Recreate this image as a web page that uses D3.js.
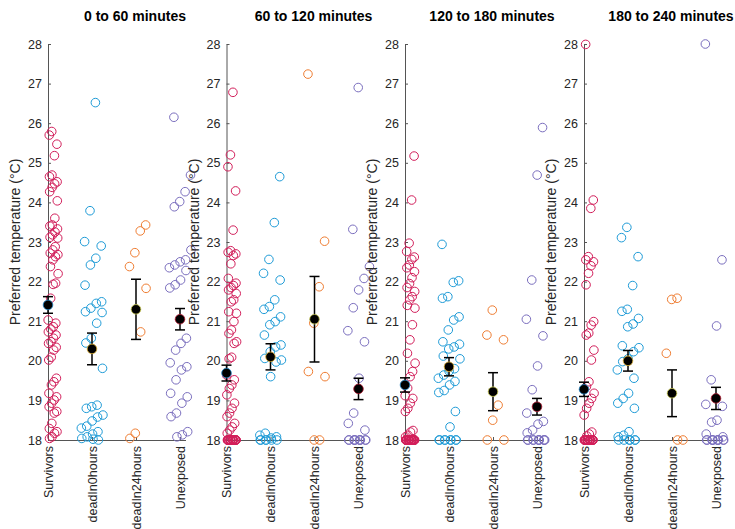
<!DOCTYPE html>
<html>
<head>
<meta charset="utf-8">
<script src="https://cdn.jsdelivr.net/npm/d3@7"></script>
<style>
  html, body { margin: 0; padding: 0; background: #fff; }
  svg { display: block; font-family: "Liberation Sans", Arial, Helvetica, sans-serif; }
</style>
</head>
<body>
<svg id="chart" width="735" height="529"></svg>
<script>
// ---------------- DATA ----------------
const categories = ["Survivors", "deadIn0hours", "deadIn24hours", "Unexposed"];
const panelTitles = ["0 to 60 minutes", "60 to 120 minutes", "120 to 180 minutes", "180 to 240 minutes"];
const yTicks = [18, 19, 20, 21, 22, 23, 24, 25, 26, 27, 28];
const yLabel = "Preferred temperature (°C)";

// 0 to 60 minutes
const survivors_0_60 = [25.79, 25.70, 25.47, 25.18, 24.69, 24.65, 24.52, 24.47, 24.38, 24.27, 24.04, 23.60, 23.43, 23.40, 23.33, 23.25, 23.18, 23.12, 23.10, 22.88, 22.80, 22.72, 22.68, 22.63, 22.55, 22.38, 22.20, 21.96, 21.93, 21.58, 21.03, 20.95, 20.86, 20.80, 20.73, 20.65, 20.57, 20.48, 20.44, 20.34, 20.27, 20.09, 20.02, 19.56, 19.47, 19.39, 19.18, 19.09, 19.01, 18.93, 18.84, 18.72, 18.68, 18.42, 18.29, 18.21, 18.17, 18.08, 18.04];
const dead0_0_60 = [26.52, 23.79, 23.01, 22.90, 22.59, 22.42, 21.91, 21.49, 21.45, 21.33, 21.24, 21.22, 20.95, 20.57, 20.45, 19.81, 18.88, 18.84, 18.80, 18.63, 18.58, 18.48, 18.35, 18.30, 18.21, 18.15, 18.08, 18.04, 18.00, 18.02];
const dead24_0_60 = [23.43, 23.28, 22.73, 22.38, 21.83, 20.73, 18.17, 18.04];
const unexposed_0_60 = [26.15, 24.69, 24.27, 24.02, 23.89, 22.80, 22.55, 22.50, 22.42, 22.35, 22.28, 22.04, 21.92, 21.84, 20.57, 20.44, 20.27, 19.95, 19.85, 19.77, 19.52, 19.18, 19.09, 18.93, 18.68, 18.59, 18.21, 18.13, 18.08];
const means_0_60 = [21.41, 20.30, 21.30, 21.05];
const errs_0_60 = [0.21, 0.40, 0.76, 0.27];

// 60 to 120 minutes
const survivors_60_120 = [26.78, 25.20, 24.90, 24.29, 23.30, 22.78, 22.74, 22.70, 22.66, 22.45, 22.08, 21.96, 21.90, 21.85, 21.79, 21.70, 21.54, 21.49, 21.24, 21.20, 20.99, 20.78, 20.69, 20.48, 20.44, 20.09, 20.05, 19.64, 19.52, 19.39, 19.30, 19.14, 18.93, 18.80, 18.68, 18.59, 18.42, 18.33, 18.25, 18.17, 18, 18, 18, 18, 18, 18, 18, 18, 18, 18, 18, 18, 18, 18, 18, 18, 18, 18, 18, 18, 18, 18, 18, 18, 18];
const dead0_60_120 = [24.65, 23.49, 22.56, 22.21, 22.04, 21.54, 21.37, 21.30, 21.11, 20.99, 20.91, 20.65, 20.40, 20.35, 20.23, 20.06, 20.02, 19.97, 19.60, 18.17, 18.12, 18.08, 18.05, 18, 18, 18, 18, 18, 18];
const dead24_60_120 = [27.24, 23.02, 21.87, 20.95, 19.73, 19.60, 18, 18];
const unexposed_60_120 = [26.90, 23.32, 22.38, 22.08, 21.79, 21.34, 20.76, 20.48, 19.56, 18.68, 18.42, 18.25, 18, 18, 18, 18, 18, 18, 18, 18, 18, 18];
const means_60_120 = [19.69, 20.10, 21.05, 19.29];
const errs_60_120 = [0.20, 0.33, 1.08, 0.27];

// 120 to 180 minutes
const survivors_120_180 = [25.17, 24.06, 22.97, 22.76, 22.62, 22.56, 22.42, 22.35, 22.25, 22.10, 21.95, 21.85, 21.75, 21.62, 21.54, 21.40, 21.33, 20.91, 20.53, 20.19, 19.94, 19.73, 19.60, 19.31, 19.12, 19.05, 18.93, 18.80, 18.72, 18.24, 18.20, 18.12, 18.08, 18, 18, 18, 18, 18, 18, 18, 18, 18, 18, 18, 18, 18, 18, 18, 18, 18, 18, 18, 18, 18, 18, 18, 18, 18, 18, 18, 18, 18, 18];
const dead0_120_180 = [22.94, 22.02, 21.98, 21.62, 21.58, 21.11, 21.03, 20.78, 20.48, 20.42, 20.35, 20.30, 20.12, 20.05, 19.80, 19.74, 19.64, 19.56, 19.48, 19.39, 19.25, 19.20, 18.72, 18.33, 18, 18, 18, 18, 18, 18, 18, 18];
const dead24_120_180 = [21.28, 20.65, 20.53, 18.88, 18.50, 18, 18];
const unexposed_120_180 = [25.89, 24.69, 22.04, 21.05, 20.63, 19.87, 19.27, 18.68, 18.47, 18.40, 18.25, 18.18, 18, 18, 18, 18, 18, 18, 18, 18, 18, 18];
const means_120_180 = [19.39, 19.85, 19.22, 18.84];
const errs_120_180 = [0.18, 0.23, 0.48, 0.21];

// 180 to 240 minutes
const survivors_180_240 = [27.99, 24.06, 23.85, 22.63, 22.55, 22.50, 22.40, 22.21, 21.92, 20.99, 20.90, 20.70, 20.65, 20.27, 20.02, 19.47, 19.35, 19.18, 19.05, 18.93, 18.80, 18.63, 18.20, 18.15, 18.10, 18, 18, 18, 18, 18, 18, 18, 18, 18, 18, 18, 18, 18, 18, 18, 18, 18, 18, 18, 18, 18, 18, 18, 18, 18];
const dead0_180_240 = [23.37, 23.11, 22.63, 21.90, 21.30, 21.25, 21.07, 20.93, 20.86, 20.38, 20.33, 20.23, 20.05, 19.98, 19.77, 19.56, 19.18, 19.05, 18.93, 18.80, 18.21, 18.12, 18.08, 18, 18, 18, 18, 18, 18];
const dead24_180_240 = [21.58, 21.55, 20.19, 18, 18];
const unexposed_180_240 = [28.00, 22.55, 20.88, 19.52, 18.90, 18.85, 18.50, 18.45, 18.15, 18.08, 18, 18, 18, 18, 18, 18, 18, 18, 18, 18];
const means_180_240 = [19.28, 20.00, 19.18, 19.05];
const errs_180_240 = [0.18, 0.26, 0.59, 0.28];

// ---------------- STYLE ----------------
const pointColors = ["#D21E5A", "#1E9BD7", "#EF7D32", "#7A6EBE"];
const meanEdge = ["#1A7FC0", "#E0B030", "#C8C850", "#B01830"];

const panels = [
  { title: panelTitles[0], groups: [survivors_0_60, dead0_0_60, dead24_0_60, unexposed_0_60], means: means_0_60, errs: errs_0_60 },
  { title: panelTitles[1], groups: [survivors_60_120, dead0_60_120, dead24_60_120, unexposed_60_120], means: means_60_120, errs: errs_60_120 },
  { title: panelTitles[2], groups: [survivors_120_180, dead0_120_180, dead24_120_180, unexposed_120_180], means: means_120_180, errs: errs_120_180 },
  { title: panelTitles[3], groups: [survivors_180_240, dead0_180_240, dead24_180_240, unexposed_180_240], means: means_180_240, errs: errs_180_240 }
];

const svg = d3.select("#chart");
const yTop = 44, yBot = 440;
const axisW = 137.5;
const panelX0 = [48, 226.5, 405, 584];
const tickColor = "#262626";
const axisColor = "#555";

// deterministic low-discrepancy jitter (layout only)
function jitter(i) {
  const v = (i * 0.7548776662 + 0.37) % 1;
  return v;
}

panels.forEach((p, pi) => {
  const x0 = panelX0[pi];
  const x = d3.scaleLinear().domain([1, 4.125]).range([x0, x0 + axisW]);
  const y = d3.scaleLinear().domain([18, 28]).range([yBot, yTop]);
  const g = svg.append("g");

  // y axis
  const yAxis = d3.axisLeft(y).tickValues(yTicks).tickSizeInner(-3).tickSizeOuter(0).tickPadding(6);
  const ya = g.append("g").attr("transform", `translate(${x0},0)`).call(yAxis);
  ya.select(".domain").attr("stroke", axisColor);
  ya.selectAll(".tick line").attr("stroke", axisColor);
  ya.selectAll("text").attr("fill", tickColor).style("font-size", "12.5px");

  // x axis
  const xAxis = d3.axisBottom(x).tickValues([1, 2, 3, 4]).tickFormat((d) => categories[d - 1])
    .tickSizeInner(-3).tickSizeOuter(0).tickPadding(4);
  const xa = g.append("g").attr("transform", `translate(0,${yBot})`).call(xAxis);
  xa.select(".domain").attr("stroke", axisColor);
  xa.selectAll(".tick line").attr("stroke", axisColor);
  xa.selectAll("text")
    .attr("fill", tickColor)
    .style("font-size", "12.5px")
    .attr("text-anchor", "end")
    .attr("transform", "rotate(-90)")
    .attr("x", -6)
    .attr("y", 0)
    .attr("dy", "0.35em");

  // y label
  g.append("text")
    .attr("transform", `translate(${x0 - 28},${(yTop + yBot) / 2}) rotate(-90)`)
    .attr("text-anchor", "middle")
    .attr("fill", tickColor)
    .style("font-size", "14px")
    .text(yLabel);

  // title
  g.append("text")
    .attr("x", x0 + 87)
    .attr("y", 21)
    .attr("text-anchor", "middle")
    .attr("fill", "#000")
    .style("font-size", "14px")
    .style("font-weight", "bold")
    .text(p.title);

  // scatter points
  p.groups.forEach((vals, gi) => {
    const cat = gi + 1;
    g.append("g").selectAll("circle")
      .data(vals)
      .join("circle")
      .attr("cx", (d, i) => {
        const j = jitter(i + gi * 7 + pi * 3);
        const off = gi === 0 ? j * 0.23 : (j * 2 - 1) * 0.25;
        return x(cat + off);
      })
      .attr("cy", (d) => y(d))
      .attr("r", 4.3)
      .attr("fill", "none")
      .attr("stroke", pointColors[gi])
      .attr("stroke-width", 1);
  });

  // means + error bars
  p.means.forEach((m, gi) => {
    const cx = x(gi + 1);
    const e = p.errs[gi];
    const eg = g.append("g");
    eg.append("line").attr("x1", cx).attr("x2", cx).attr("y1", y(m - e)).attr("y2", y(m + e))
      .attr("stroke", "#000").attr("stroke-width", 1.5);
    [m - e, m + e].forEach((v) => {
      eg.append("line").attr("x1", cx - 5).attr("x2", cx + 5).attr("y1", y(v)).attr("y2", y(v))
        .attr("stroke", "#000").attr("stroke-width", 1.5);
    });
    eg.append("circle").attr("cx", cx).attr("cy", y(m)).attr("r", 4.8)
      .attr("fill", "#000").attr("stroke", meanEdge[gi]).attr("stroke-width", 0.8);
  });
});
</script>
</body>
</html>
